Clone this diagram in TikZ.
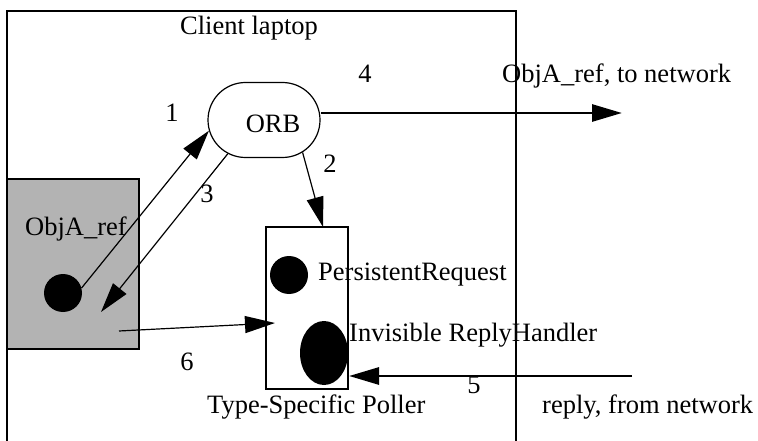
\documentclass[tikz,border=0pt]{standalone}
\usepackage{fontspec}
\setmainfont{Liberation Serif}
\usetikzlibrary{arrows.meta,shapes.misc,shapes.geometric}
\definecolor{boxgray}{RGB}{179,179,179}
\begin{document}
\begin{tikzpicture}[x=1pt,y=-1pt,
  every node/.style={font=\fontsize{26.5}{30}\selectfont, inner sep=0pt},
  frame/.style={line width=2.9pt},
  thinarrow/.style={line width=1.2pt, -{Triangle[length=30pt,width=17pt]}},
  thickarrow/.style={line width=2.9pt, -{Triangle[length=30pt,width=17pt]}},
  lbl/.style={anchor=base},
  txt/.style={anchor=base west}]
\useasboundingbox (0,0) rectangle (758,441);
% client laptop frame (open at the bottom)
\draw[frame] (7,441) -- (7,11) -- (516,11) -- (516,441);
% object reference box
\node[draw, frame, fill=boxgray, minimum width=132, minimum height=170] (objbox) at (73,264) {};
\node[circle, fill=black, minimum size=38] (dot1) at (63,293) {};
% ORB
\node[rounded rectangle, draw, line width=1.2pt, minimum width=112, minimum height=75] (orb) at (264,120) {};
\node[lbl] (orbtext) at (273,133) {ORB};
% poller
\node[draw, frame, minimum width=82, minimum height=162] (poller) at (307,308) {};
\node[circle, fill=black, minimum size=38] (preq) at (289,275) {};
\node[ellipse, fill=black, minimum width=48, minimum height=64] (rh) at (324,353) {};
% free ends
\coordinate (net4) at (622,113);
\coordinate (net5) at (632,376);
\coordinate (in3) at (101,312);
\coordinate (out6) at (119,331);
\coordinate (in6) at (275,323);
\coordinate (in2) at (323,227);
\coordinate (in5) at (349,376);
% connectors
\draw[thinarrow] (dot1.15) -- (orb.191);
\draw[thinarrow] (orb.223) -- (in3);
\draw[thinarrow] (orb.320) -- (in2);
\draw[thickarrow] (orb.east |- net4) -- (net4);
\draw[thinarrow] (out6) -- (in6);
\draw[thickarrow] (net5) -- (in5);
% labels
\node[lbl] (l1) at (172,122) {1};
\node[lbl] (l2) at (330,173) {2};
\node[lbl] (l3) at (207,203) {3};
\node[lbl] (l4) at (365,83) {4};
\node[lbl] (l5) at (474,393) {5};
\node[lbl] (l6) at (187,370) {6};
\node[txt] (title) at (180,35) {Client laptop};
\node[txt] (objname) at (25,235) {ObjA\_ref};
\node[txt] (tonet) at (502,83) {ObjA\_ref, to network};
\node[txt] (preqtext) at (318,280) {PersistentRequest};
\node[txt] (rhtext) at (349,341) {Invisible ReplyHandler};
\node[txt] (fromnet) at (542,413) {reply, from network};
\node[txt] (pollertext) at (207,413) {Type-Specific Poller};
\end{tikzpicture}
\end{document}
